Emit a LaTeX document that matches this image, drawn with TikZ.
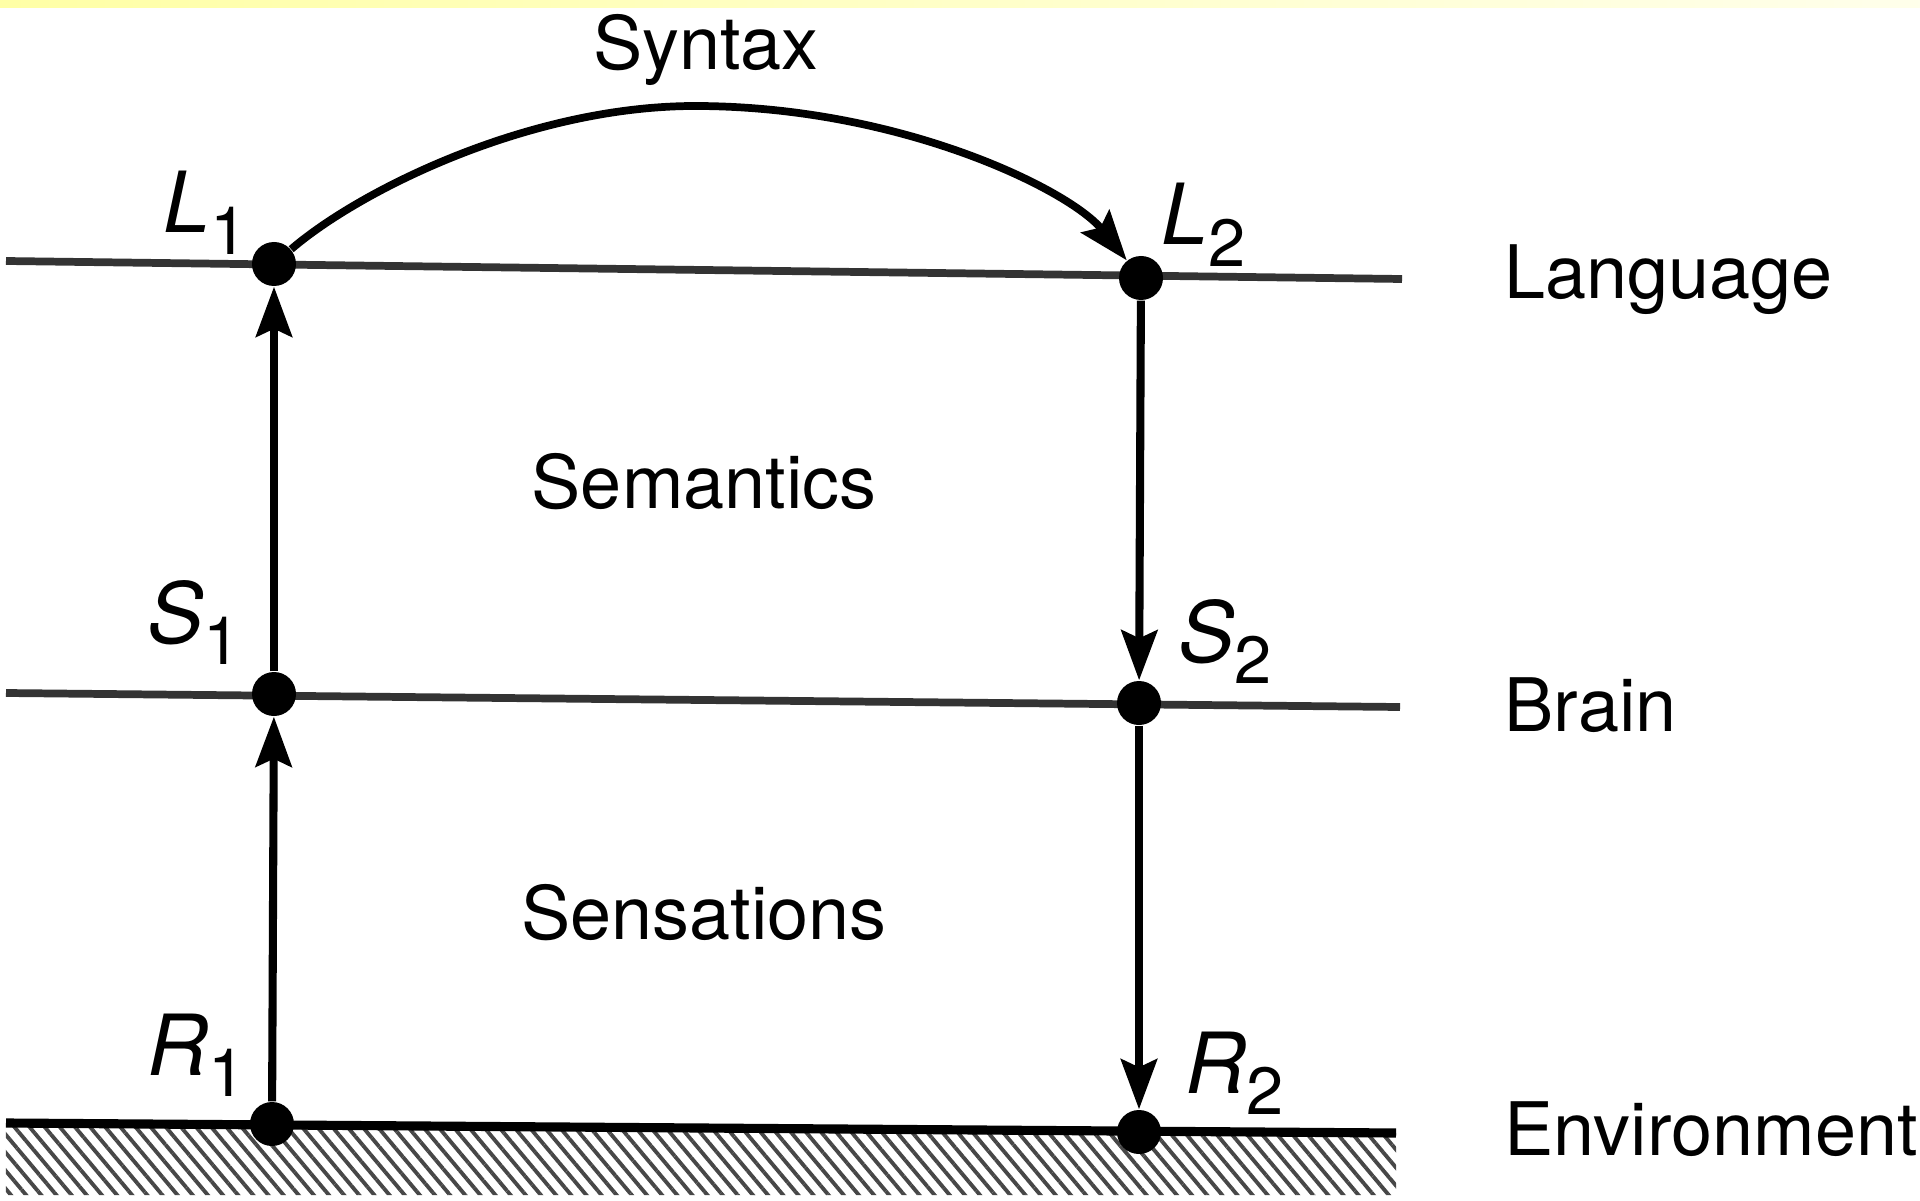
\documentclass[tikz,border=0pt]{standalone}
\usepackage{fontspec}
\setmainfont{TeX Gyre Heros}
\usetikzlibrary{arrows.meta,patterns.meta}

\newcommand{\ptlabel}[2]{\textit{#1}\raisebox{-0.25em}{\fontsize{19}{22}\selectfont #2}}

\begin{document}
\begin{tikzpicture}[
    dot/.style={circle, fill=black, inner sep=0pt, minimum size=4.4mm},
    level/.style={line width=2.2pt, black!80},
    flow/.style={line width=2.3pt, -{Stealth[length=5mm, width=3.6mm, inset=0.8mm]}},
    lvltext/.style={anchor=base west, inner sep=0pt, font=\fontsize{21}{25}\selectfont},
    ptext/.style={anchor=base west, inner sep=0pt, font=\fontsize{24}{28}\selectfont},
    areatext/.style={anchor=base, inner sep=0pt, font=\fontsize{21}{25}\selectfont}
]
    \useasboundingbox (0,0) rectangle (19.2,12);

    % Bande jaune en haut
    \shade[left color=yellow!35, right color=yellow!8] (0,11.92) rectangle (19.2,12);

    % Extremites des niveaux
    \coordinate (langW) at (0.06,9.39);
    \coordinate (langE) at (14.02,9.21);
    \coordinate (brainW) at (0.06,5.07);
    \coordinate (brainE) at (14.00,4.93);
    \coordinate (envW) at (0.06,0.77);
    \coordinate (envE) at (13.96,0.67);

    % Sol hachure
    \fill[pattern={Lines[angle=-50, distance=3.3pt, line width=1.1pt]}, pattern color=black!72]
        (envW) -- (envE) -- (13.96,0.05) -- (0.06,0.05) -- cycle;

    % Niveaux
    \draw[level] (langW) -- (langE);
    \draw[level] (brainW) -- (brainE);
    \draw[level, line width=2.6pt, black] (envW) -- (envE);

    % Points
    \node[dot] (L1) at (2.74,9.36) {};
    \node[dot] (L2) at (11.41,9.22) {};
    \node[dot] (S1) at (2.74,5.06) {};
    \node[dot] (S2) at (11.39,4.97) {};
    \node[dot] (R1) at (2.72,0.76) {};
    \node[dot] (R2) at (11.39,0.68) {};

    % Fleches
    \draw[flow] (R1) -- (S1);
    \draw[flow] (S1) -- (L1);
    \draw[flow] (L2) -- (S2);
    \draw[flow] (S2) -- (R2);

    % Arc de la syntaxe
    \coordinate (arcTop) at (6.95,10.94);
    \draw[flow, line width=2.2pt] (L1) .. controls (3.6,10.1) and (5.3,10.94) .. (arcTop)
        .. controls (9.0,10.94) and (10.7,10.1) .. (L2);

    % Etiquettes des points
    \node[ptext] (L1lbl) at (1.63,9.67) {\ptlabel{L}{1}};
    \node[ptext] (L2lbl) at (11.61,9.55) {\ptlabel{L}{2}};
    \node[ptext] (S1lbl) at (1.47,5.57) {\ptlabel{S}{1}};
    \node[ptext] (S2lbl) at (11.78,5.38) {\ptlabel{S}{2}};
    \node[ptext] (R1lbl) at (1.47,1.25) {\ptlabel{R}{1}};
    \node[ptext] (R2lbl) at (11.85,1.07) {\ptlabel{R}{2}};

    % Textes
    \node[areatext] (syntax) at (7.06,11.30) {Syntax};
    \node[areatext] (semantics) at (7.04,6.92) {Semantics};
    \node[areatext] (sensations) at (7.04,2.61) {Sensations};
    \node[lvltext] (language) at (15.04,9.01) {Language};
    \node[lvltext] (brain) at (15.04,4.69) {Brain};
    \node[lvltext] (environment) at (15.04,0.45) {Environment};
\end{tikzpicture}
\end{document}
